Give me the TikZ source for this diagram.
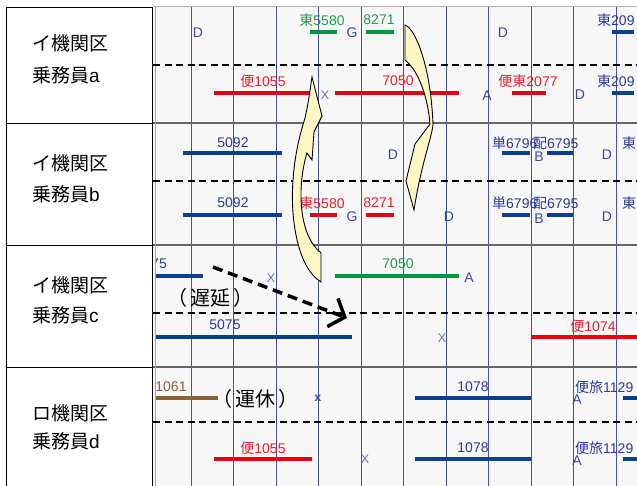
\documentclass[tikz,border=0pt]{standalone}
\usepackage{fontspec}
\setmainfont{Liberation Sans}
\newfontfamily\cjk{Noto Sans CJK JP}
\usetikzlibrary{arrows.meta}
\newcommand\J[1]{{\cjk #1}}
\definecolor{gridc}{HTML}{4A4FA3}
\definecolor{bgc}{HTML}{F7F7F7}
\definecolor{grnc}{HTML}{00983F}
\definecolor{grntxt}{HTML}{1E9A55}
\definecolor{redc}{HTML}{E60012}
\definecolor{redtxt}{HTML}{E8202A}
\definecolor{bluec}{HTML}{0A3F96}
\definecolor{bluetxt}{HTML}{2A3C9A}
\definecolor{brnc}{HTML}{8A6236}
\definecolor{mkc}{HTML}{3A48A0}
\definecolor{xc}{HTML}{6572BE}
\definecolor{arrowfill}{HTML}{FFF8C6}
\tikzset{
 lbl/.style={inner sep=0pt, font=\fontsize{14}{14}\selectfont},
 mk/.style={inner sep=0pt, font=\fontsize{14}{14}\selectfont, text=mkc},
 xmk/.style={inner sep=0pt, font=\fontsize{12.5}{12.5}\selectfont, text=xc},
 bar/.style={line width=4pt},
 gridline/.style={draw=gridc, line width=0.8pt},
 rowline/.style={draw=black!60, line width=1.5pt},
 trackline/.style={draw=black, line width=1.6pt, dash pattern=on 7pt off 4.5pt},
 cellline/.style={draw=black, line width=0.8pt},
 cellt/.style={inner sep=0pt, anchor=west, font=\fontsize{19}{19}\selectfont},
 big/.style={inner sep=0pt, font=\fontsize{20}{20}\selectfont\cjk},
 yarrow/.style={draw=black, line width=0.9pt, fill=arrowfill},
 delayarrow/.style={line width=3.5pt, dash pattern=on 10pt off 6pt, -{Straight Barb[length=13pt,width=30pt,line width=3.5pt]}}
}
\begin{document}
\begin{tikzpicture}[x=1pt,y=-1pt]
\clip (0,0) rectangle (637,486);
\fill[white] (0,0) rectangle (637,486);
% chart background
\fill[bgc] (153,7) rectangle (637,486);
\foreach \x in {191,233.5,276,318.5,361,403.5,446,488.5,531,573.5,616}
  \draw[gridline] (\x,7) -- (\x,486);
\foreach \y in {123,245,367}
  \draw[rowline] (153,\y) -- (637,\y);
\draw[draw=black!30, line width=1pt] (153,7) -- (637,7);
\draw[draw=black!35, line width=0.8pt] (155.5,7) -- (155.5,486);
% left column
\draw[cellline] (6,486) -- (6,7) -- (152,7) -- (152,486);
\foreach \y in {123,245,367}
  \draw[cellline] (6,\y) -- (152,\y);
% track dashed lines
\foreach \y in {65,181,313,422}
  \draw[trackline] (153,\y) -- (637,\y);
% left labels
\node[cellt] (ca1) at (32,43) {\J{イ機関区}};
\node[cellt] (ca2) at (32,75) {\J{乗務員}a};
\node[cellt] (cb1) at (32,163) {\J{イ機関区}};
\node[cellt] (cb2) at (32,194) {\J{乗務員}b};
\node[cellt] (cc1) at (32,285) {\J{イ機関区}};
\node[cellt] (cc2) at (32,315) {\J{乗務員}c};
\node[cellt] (cd1) at (32,413) {\J{ロ機関区}};
\node[cellt] (cd2) at (32,441) {\J{乗務員}d};
\begin{scope}
\clip (156,7) rectangle (637,486);
% ---- row a upper
\node[mk] (a1) at (198,33) {D};
\draw[bar,grnc] (310,32) -- (337,32);
\node[lbl,text=grntxt] (a2) at (322,20) {\J{東}5580};
\node[mk] (a3) at (352,33) {G};
\draw[bar,grnc] (366,32) -- (394,32);
\node[lbl,text=grntxt] (a4) at (379,20) {8271};
\node[mk] (a5) at (503,33) {D};
\draw[bar,bluec] (612,32) -- (634,32);
\node[lbl,text=bluetxt,anchor=west] (a6) at (597,20) {\J{東}209};
% ---- row a lower
\draw[bar,redc] (214,93) -- (312,93);
\node[lbl,text=redtxt] (a7) at (263,81) {\J{便}1055};
\node[xmk] (a8) at (325,95) {X};
\draw[bar,redc] (335,93) -- (459,93);
\node[lbl,text=redtxt] (a9) at (398,81) {7050};
\node[mk] (a10) at (487,96) {A};
\draw[bar,redc] (512,93) -- (546,93);
\node[lbl,text=redtxt] (a11) at (528,81) {\J{便東}2077};
\node[mk] (a12) at (580,95) {D};
\draw[bar,bluec] (612,93) -- (634,93);
\node[lbl,text=bluetxt,anchor=west] (a13) at (597,81) {\J{東}209};
% ---- row b upper
\draw[bar,bluec] (183,153) -- (282,153);
\node[lbl,text=bluetxt] (b1) at (233,143) {5092};
\node[mk] (b2) at (393,155) {D};
\draw[bar,bluec] (502,153) -- (530,153);
\node[lbl,text=bluetxt,anchor=west] (b3) at (492,143) {\J{単}6796};
\draw[bar,bluec] (547,153) -- (573,153);
\node[lbl,text=bluetxt,anchor=west] (b4) at (533,143) {\J{配}6795};
\node[mk] (b5) at (539,157) {B};
\node[mk] (b6) at (607,155) {D};
\node[lbl,text=bluetxt,anchor=west] (b7) at (622,143) {\J{東}};
% ---- row b lower
\draw[bar,bluec] (183,215) -- (282,215);
\node[lbl,text=bluetxt] (b8) at (233,203) {5092};
\node[mk] (b9) at (298,217) {D};
\draw[bar,redc] (310,215) -- (337,215);
\node[lbl,text=redtxt] (b10) at (322,203) {\J{東}5580};
\node[mk] (b11) at (352,217) {G};
\draw[bar,redc] (366,215) -- (394,215);
\node[lbl,text=redtxt] (b12) at (379,203) {8271};
\node[mk] (b13) at (449,217) {D};
\draw[bar,bluec] (502,215) -- (530,215);
\node[lbl,text=bluetxt,anchor=west] (b14) at (492,203) {\J{単}6796};
\draw[bar,bluec] (547,215) -- (573,215);
\node[lbl,text=bluetxt,anchor=west] (b15) at (533,203) {\J{配}6795};
\node[mk] (b16) at (539,219) {B};
\node[mk] (b17) at (607,217) {D};
\node[lbl,text=bluetxt,anchor=west] (b18) at (622,203) {\J{東}};
% ---- row c upper
\draw[bar,bluec] (155,276) -- (203,276);
\node[lbl,text=bluetxt,anchor=east] (c1) at (167,264) {75};
\node[xmk] (c2) at (271,278) {X};
\draw[bar,grnc] (335,276) -- (459,276);
\node[lbl,text=grntxt] (c3) at (398,264) {7050};
\node[mk] (c4) at (469,278) {A};
\node[big] (c5) at (210,298) {（\hspace{3pt}遅延\hspace{3pt}）};
% ---- row c lower
\draw[bar,bluec] (155,337) -- (352,337);
\node[lbl,text=bluetxt] (c6) at (225,325) {5075};
\node[xmk] (c7) at (442,338) {X};
\draw[bar,redc] (531,337) -- (637,337);
\node[lbl,text=redtxt] (c8) at (593,326) {\J{便}1074};
% ---- row d upper
\draw[bar,brnc] (155,398) -- (218,398);
\node[lbl,text=brnc] (d1) at (171,387) {1061};
\node[big] (d2) at (255,399) {（\hspace{3pt}運休\hspace{3pt}）};
\node[inner sep=0pt, font=\fontsize{12}{12}\selectfont\bfseries, text=mkc] (d3) at (318,398) {x};
\draw[bar,bluec] (415,398) -- (531,398);
\node[lbl,text=bluetxt] (d4) at (473,387) {1078};
\node[lbl,text=bluetxt,anchor=west] (d5) at (575,387) {\J{便旅}1129};
\node[mk] (d6) at (577,400) {A};
\draw[bar,bluec] (623,398) -- (637,398);
% ---- row d lower
\draw[bar,redc] (214,459) -- (312,459);
\node[lbl,text=redtxt] (d7) at (263,448) {\J{便}1055};
\node[xmk] (d8) at (365,459) {X};
\draw[bar,bluec] (415,459) -- (531,459);
\node[lbl,text=bluetxt] (d9) at (473,448) {1078};
\node[lbl,text=bluetxt,anchor=west] (d10) at (575,448) {\J{便旅}1129};
\node[mk] (d11) at (577,461) {A};
\draw[bar,bluec] (623,459) -- (637,459);
\end{scope}
% delay arrow
\coordinate (dS) at (213,267);
\coordinate (dE) at (347,318);
\draw[delayarrow] (dS) -- (dE);
% curved swap arrows
\draw[yarrow] (405,25) .. controls (416,29) and (431,68) .. (433,125)
  .. controls (431,140) and (421,165) .. (414,210)
  -- (406,181) -- (415,144) -- (430,124)
  .. controls (428,100) and (420,72) .. (405,60) -- cycle;
\draw[yarrow] (321,282) .. controls (298,268) and (290,220) .. (293,180)
  .. controls (295,150) and (302,128) .. (305,118)
  .. controls (308,104) .. (312,77)
  -- (322,116) -- (314,132) -- (312,160) -- (307,153)
  .. controls (297,185) and (298,235) .. (321,253) -- cycle;
\end{tikzpicture}
\end{document}
